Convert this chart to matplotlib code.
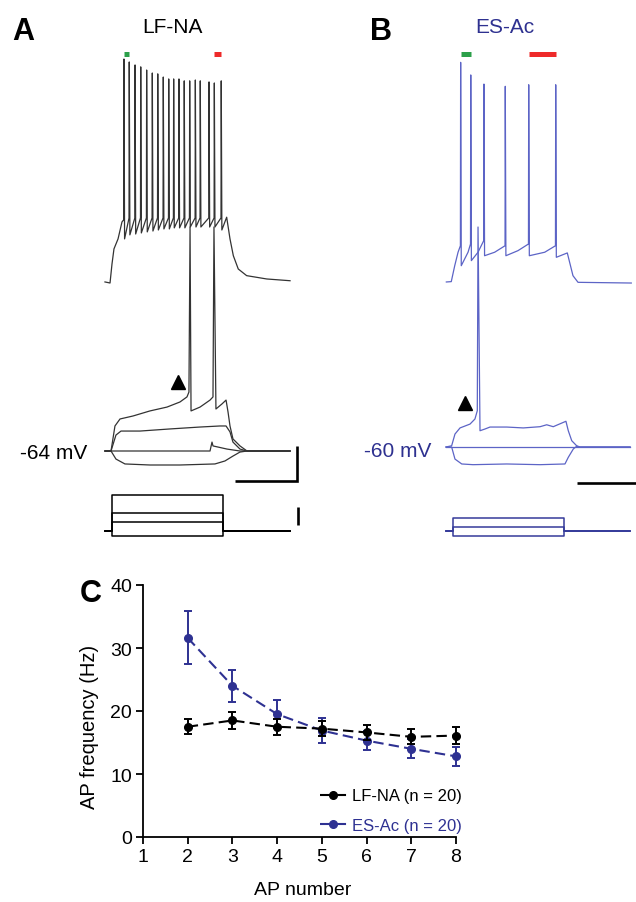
import matplotlib
matplotlib.use('Agg')
import matplotlib.pyplot as plt
from matplotlib.lines import Line2D

plt.rcParams['font.family'] = ['Liberation Sans', 'DejaVu Sans']

W, H = 636, 903
PX_MS = 0.1233   # pixels per ms
PX_MV = 1.75     # pixels per mV
PX_PA = 0.18     # pixels per pA

GRAY = '#333333'
BLUE_TRACE = '#5c64c6'
NAVY = '#2e3190'
C_BLUE = '#2e3192'

# ---------------- data ----------------
# A (LF-NA): sweeps around -64 mV, time in ms from step onset
a_rest = -64
a_hyp_t = [-57, -8, 32, 105, 308, 551, 835, 916, 981, 1038, 1095, 1444]
a_hyp_v = [-64, -64, -68.6, -71.4, -72, -72, -71.4, -69.7, -66.9, -64.6, -64, -64]
a_zero_t = [-57, 795, 811, 819, 933, 1038, 1444]
a_zero_v = [-64, -64, -58.9, -61.1, -62.9, -64, -64]
a_dep_t = [-57, -8, 32, 73, 227, 470, 714, 876, 925, 957, 981, 1038, 1095, 1444]
a_dep_v = [-64, -64, -54.9, -52.6, -52.6, -51.4, -50.3, -49.7, -49.7, -53.1, -58.9, -62.9, -64, -64]
a_thr_t = [-57, -8, 24, 65, 170, 308, 446, 551, 608, 624, 633, 641, 714, 795, 819,
           827, 843, 892, 925, 941, 957, 981, 1038, 1095, 1444]
a_thr_v = [-64, -64, -49.7, -45.7, -44, -41.1, -38.9, -36, -33.1, -30.3, 64, -41.1, -38.9,
           -34.9, -33.1, 64, -40, -37.1, -34.9, -41.7, -49.7, -57.1, -61.1, -64, -64]

# A top trace (spike train)
a_on_t = [-57, -16, 0, 16, 49, 81]
a_on_v = [-64, -64.6, -53.7, -45.1, -39.4, -29.7]
a_spike_t = [97, 140, 187, 233, 281, 327, 371, 416, 460, 500, 543, 586, 630, 676, 716, 787, 830, 886]
a_spike_peak = [63.4, 61.7, 60.0, 58.9, 57.1, 55.4, 54.9, 53.1, 52.0, 52.0, 52.0, 50.9,
                50.9, 51.4, 50.9, 50.3, 49.7, 50.9]
a_spike_thr = [-28.5, -27.5, -27.5, -27.4, -27.4, -27.4, -27.4, -27.4, -27.4, -27.4,
               -27.4, -27.4, -27.4, -27.4, -27.4, -27.4, -27.4, -27.4]
a_spike_trough = [-39.4, -37.1, -36.6, -36.0, -35.4, -34.9, -34.3, -33.7, -33.7, -33.1,
                  -33.1, -33.1, -32.6, -32.6, -32.6, -32.6, -32.6, -34.3]
a_off_t = [930, 957, 984, 1024, 1092, 1255, 1444]
a_off_v = [-27, -39.4, -49, -56.6, -60.4, -62.3, -63.3]
a_top_offset = 96.6

# B (ES-Ac): sweeps around -60 mV
b_rest = -60
b_hyp_t = [-57, -11, 16, 71, 162, 436, 706, 908, 935, 976, 1003, 1030, 1436]
b_hyp_v = [-60, -60, -66.9, -69.7, -70.1, -69.7, -70.1, -69.7, -65.9, -61.1, -59.6, -60, -60]
b_zero_t = [-57, 1436]
b_zero_v = [-60, -60]
b_thr_t = [-57, -11, 16, 57, 138, 178, 197, 203, 219, 260, 300, 436, 570, 706, 760, 813,
           916, 935, 963, 1003, 1030, 1436]
b_thr_v = [-60, -59.3, -52.6, -49.1, -46.9, -44, -39.3, 65.7, -50.7, -49.7, -48.6, -48.6,
           -49.1, -48.4, -47.3, -48.4, -45.3, -50.7, -56.4, -59.3, -60, -60]

b_on_t = [-54, -14, 14, 41]
b_on_v = [-60, -59.8, -50.7, -43]
b_spike_t = [62, 144, 251, 424, 614, 833]
b_spike_peak = [65.5, 58.3, 53.1, 51.8, 52.7, 52.7]
b_spike_thr = [-39.3, -38.3, -36.4, -39.3, -38.3, -39.3]
b_spike_trough = [-50.7, -47.8, -45, -45, -45, -45.9]
b_mid_t = [122, 203, 338, 527, 744]
b_mid_v = [-43, -43, -43, -42.1, -43]
b_off_t = [906, 927, 973, 1014, 1446]
b_off_v = [-44, -43.4, -56.4, -60.2, -60.6]
b_top_offset = 94.3

# current steps (pA), step 0-900 ms
step_dur = 900
a_steps = [-25, 50, 100, 200]
b_steps = [-25, 25, 75]

# C: AP frequency
ap_number = [2, 3, 4, 5, 6, 7, 8]
lfna_mean = [17.5, 18.5, 17.5, 17.2, 16.6, 15.9, 16.1]
lfna_sem = [1.2, 1.3, 1.3, 1.2, 1.2, 1.2, 1.3]
esac_mean = [31.6, 24.0, 19.5, 16.9, 15.3, 14.0, 12.8]
esac_sem = [4.2, 2.5, 2.2, 2.0, 1.5, 1.5, 1.5]


def build_train(on_t, on_v, sp_t, thr, peak, trough, off_t, off_v, mid_t=None, mid_v=None):
    ts, vs = list(on_t), list(on_v)
    for i in range(len(sp_t)):
        if i > 0 and mid_t:
            ts.append(mid_t[i - 1])
            vs.append(mid_v[i - 1])
        ts += [sp_t[i] - 2, sp_t[i], sp_t[i] + 5]
        vs += [thr[i], peak[i], trough[i]]
    return ts + list(off_t), vs + list(off_v)


fig = plt.figure(figsize=(W / 100, H / 100), dpi=100)


def px_axes(x0, y0, x1, y1, t0_px, anchor_px, anchor_val, px_per_y):
    ax = fig.add_axes([x0 / W, 1 - y1 / H, (x1 - x0) / W, (y1 - y0) / H])
    ax.set_xlim((x0 - t0_px) / PX_MS, (x1 - t0_px) / PX_MS)
    ax.set_ylim(anchor_val - (y1 - anchor_px) / px_per_y,
                anchor_val + (anchor_px - y0) / px_per_y)
    ax.axis('off')
    return ax


def ftext(x, y, s, **kw):
    fig.text(x / W, 1 - y / H, s, **kw)


# ---------------- panel A ----------------
axA = px_axes(95, 40, 320, 500, 112, 452, a_rest, PX_MV)
for t, v in [(a_hyp_t, a_hyp_v), (a_zero_t, a_zero_v), (a_dep_t, a_dep_v), (a_thr_t, a_thr_v)]:
    axA.plot(t, v, color=GRAY, lw=0.9)
ta, va = build_train(a_on_t, a_on_v, a_spike_t, a_spike_thr, a_spike_peak,
                     a_spike_trough, a_off_t, a_off_v)
axA.plot(ta, [v + a_top_offset for v in va], color=GRAY, lw=0.9)
bar_y = 162.6
axA.plot(a_spike_t[:2], [bar_y, bar_y], color='#2ca04a', lw=3.6, solid_capstyle='butt')
axA.plot(a_spike_t[-2:], [bar_y, bar_y], color='#ee2a2a', lw=3.6, solid_capstyle='butt')
axA.plot([535], [-24.6], marker='^', color='black', ms=10.5, ls='none')
axA.plot([1000, 1500, 1500], [-81.1, -81.1, -61.1], color='black', lw=1.9,
         solid_capstyle='butt', solid_joinstyle='miter')

axAi = px_axes(95, 480, 320, 550, 112, 532, 0, PX_PA)
for lvl in a_steps:
    axAi.plot([-57, 0, 0, step_dur, step_dur, 1444], [0, 0, lvl, lvl, 0, 0],
              color='black', lw=1.1)
axAi.plot([1508, 1508], [33, 133], color='black', lw=1.9, solid_capstyle='butt')

# ---------------- panel B ----------------
axB = px_axes(430, 40, 636, 500, 453, 448, b_rest, PX_MV)
for t, v in [(b_hyp_t, b_hyp_v), (b_zero_t, b_zero_v), (b_thr_t, b_thr_v)]:
    axB.plot(t, v, color=BLUE_TRACE, lw=0.9)
tb, vb = build_train(b_on_t, b_on_v, b_spike_t, b_spike_thr, b_spike_peak,
                     b_spike_trough, b_off_t, b_off_v, b_mid_t, b_mid_v)
axB.plot(tb, [v + b_top_offset for v in vb], color=BLUE_TRACE, lw=0.9)
bar_y = 164.3
axB.plot(b_spike_t[:2], [bar_y, bar_y], color='#2ca04a', lw=3.6, solid_capstyle='butt')
axB.plot(b_spike_t[-2:], [bar_y, bar_y], color='#ee2a2a', lw=3.6, solid_capstyle='butt')
axB.plot([97], [-34.9], marker='^', color='black', ms=10.5, ls='none')
axB.plot([1006, 1506, 1506], [-80.6, -80.6, -60.6], color='black', lw=1.9,
         solid_capstyle='butt')

axBi = px_axes(430, 480, 636, 550, 453, 532, 0, PX_PA)
for lvl in b_steps:
    axBi.plot([-57, 0, 0, step_dur, step_dur, 1436], [0, 0, lvl, lvl, 0, 0],
              color='#353b9a', lw=1.1)

# labels
ftext(12, 40, 'A', fontsize=22, fontweight='bold')
ftext(370, 40, 'B', fontsize=22, fontweight='bold')
ftext(172, 33, 'LF-NA', fontsize=15, ha='center', va='baseline')
ftext(505, 33, 'ES-Ac', fontsize=15, ha='center', va='baseline', color=NAVY)
ftext(87, 459, '-64 mV', fontsize=15, ha='right', va='baseline')
ftext(431, 457, '-60 mV', fontsize=15, ha='right', va='baseline', color=NAVY)

# ---------------- panel C ----------------
axC = fig.add_axes([143 / W, 1 - 838 / H, (456 - 143) / W, (838 - 586) / H])
dash = (0, (5, 2.5))
eb_b = axC.errorbar(ap_number, esac_mean, yerr=esac_sem, color=C_BLUE, marker='o', ms=5.5,
                    linestyle=dash, lw=1.5, capsize=3, elinewidth=1.4, capthick=1.4,
                    zorder=2)
eb_k = axC.errorbar(ap_number, lfna_mean, yerr=lfna_sem, color='black', marker='o', ms=5.5,
                    linestyle=dash, lw=1.5, capsize=3, elinewidth=1.4, capthick=1.4,
                    zorder=3)
for eb in (eb_b, eb_k):
    for art in eb.get_children():
        art.set_clip_on(False)

axC.set_xlim(1, 8)
axC.set_ylim(0, 40)
axC.set_xticks(range(1, 9))
axC.set_yticks([0, 10, 20, 30, 40])
for s in ['top', 'right']:
    axC.spines[s].set_visible(False)
for s in ['left', 'bottom']:
    axC.spines[s].set_linewidth(1.3)
axC.tick_params(direction='out', length=5, width=1.3, labelsize=14, pad=3)
axC.set_ylabel('AP frequency (Hz)', fontsize=14.5)
axC.set_xlabel('AP number', fontsize=14)
axC.yaxis.set_label_coords(-0.14, 0.44)
axC.xaxis.set_label_coords(0.511, -0.175)

handles = [Line2D([], [], color='black', marker='o', ms=5.5, lw=1.5, ls=dash),
           Line2D([], [], color=C_BLUE, marker='o', ms=5.5, lw=1.5, ls=dash)]
labels = ['LF-NA (n = 20)', 'ES-Ac (n = 20)']
leg = axC.legend(handles, labels, loc='center left',
                 bbox_to_anchor=(0.566, 0.105), frameon=False, fontsize=12,
                 handlelength=1.6, handletextpad=0.3, labelspacing=0.85,
                 borderpad=0, borderaxespad=0)
leg.get_texts()[0].set_color('black')
leg.get_texts()[1].set_color(C_BLUE)

ftext(80, 602, 'C', fontsize=22, fontweight='bold')

fig.savefig('out.png', dpi=100)
